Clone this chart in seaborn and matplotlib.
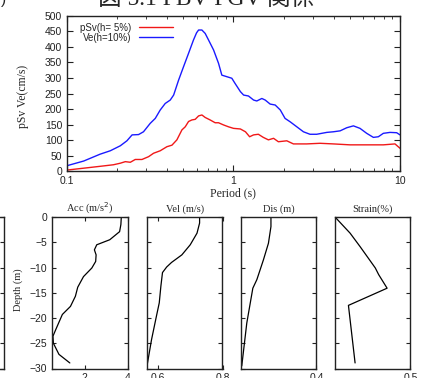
import numpy as np
import pandas as pd
import matplotlib
matplotlib.use("Agg")
import matplotlib.pyplot as plt
import seaborn as sns

# ---- data: response spectra ----
period_ve = [0.1, 0.126, 0.158, 0.182, 0.209, 0.229, 0.246, 0.269, 0.288, 0.316, 0.339,
             0.363, 0.389, 0.417, 0.437, 0.468, 0.501, 0.537, 0.575, 0.600, 0.617, 0.646,
             0.676, 0.708, 0.759, 0.813, 0.851, 0.912, 0.977, 1.02, 1.10, 1.15, 1.23,
             1.32, 1.38, 1.48, 1.55, 1.66, 1.78, 1.91, 2.04, 2.19, 2.40, 2.63, 2.88,
             3.16, 3.63, 3.98, 4.37, 4.79, 5.25, 5.75, 6.31, 6.92, 7.41, 7.94, 8.71,
             9.55, 10.0]
ve_10 = [18, 33, 55, 66, 82, 98, 117, 118, 127, 154, 170, 197, 218, 229, 245, 293, 336,
         379, 422, 445, 454, 454, 443, 422, 390, 347, 309, 304, 299, 283, 256, 245, 242, 229,
         226, 234, 229, 216, 213, 197, 170, 159, 143, 127, 119, 119, 125, 127, 130, 140,
         146, 138, 122, 109, 111, 122, 125, 124, 117]

period_psv = [0.1, 0.126, 0.158, 0.19, 0.209, 0.224, 0.240, 0.257, 0.282, 0.309, 0.331,
              0.363, 0.398, 0.427, 0.457, 0.490, 0.513, 0.537, 0.562, 0.589, 0.617,
              0.646, 0.676, 0.724, 0.776, 0.813, 0.871, 0.933, 1.0, 1.10, 1.18, 1.25,
              1.32, 1.41, 1.51, 1.62, 1.74, 1.86, 2.09, 2.29, 2.75, 3.31, 3.98, 5.01,
              6.31, 7.94, 9.33, 10.0]
psv_5 = [4, 10, 16, 21, 26, 31, 29, 38, 38, 47, 58, 66, 79, 84, 101, 133, 143, 160, 165,
         167, 178, 181, 173, 165, 156, 156, 149, 143, 138, 136, 127, 111, 117, 119, 109,
         101, 106, 95, 98, 88, 88, 90, 88, 85, 85, 85, 88, 74]

legend_labels = ["pSv(h= 5%)", "Ve(h=10%)"]
y_ticks_top = [0, 50, 100, 150, 200, 250, 300, 350, 400, 450, 500]

# ---- data: depth profiles ----
acc_depth = [0, -1.5, -2.9, -4.5, -5.5, -6.5, -7.5, -8.8, -10.1, -11.8, -13.9, -15.7, -17.7,
             -19.3, -22.3, -23.6, -25.0, -27.2, -28.9]
acc = [3.71, 3.69, 3.63, 3.17, 2.56, 2.45, 2.53, 2.51, 2.33, 1.94, 1.67, 1.56, 1.33, 0.95,
       0.64, 0.51, 0.53, 0.79, 1.30]

vel_depth = [0, -1.2, -3.2, -5.5, -7.5, -9.0, -9.9, -11.0, -13.7, -17.0, -19.7, -24.3, -29.5]
vel = [0.729, 0.729, 0.721, 0.700, 0.674, 0.642, 0.627, 0.614, 0.609, 0.604, 0.595,
       0.580, 0.566]

dis_depth = [0, -1.9, -5.2, -8.5, -12.4, -14.1, -16.4, -21.0, -29.5]
dis = [0.219, 0.219, 0.209, 0.189, 0.163, 0.147, 0.139, 0.123, 0.103]

strain_depth = [0, -3.2, -5.9, -8.5, -10.1, -11.4, -14.1, -17.5, -28.9]
strain = [0.0, 0.10, 0.167, 0.229, 0.267, 0.289, 0.345, 0.089, 0.133]

panel_titles = ["Acc (m/s$^2$)", "Vel (m/s)", "Dis (m)", "Strain(%)"]
depth_ticks = [0, -5, -10, -15, -20, -25, -30]

# ---- style ----
sns.set_style("ticks")
plt.rcParams.update({
    "xtick.direction": "in", "ytick.direction": "in",
    "axes.edgecolor": "#222222", "axes.linewidth": 1.0,
    "xtick.color": "#222222", "ytick.color": "#222222",
    "lines.solid_joinstyle": "round",
})
plt.rcParams["font.family"] = ["Liberation Sans", "DejaVu Sans"]
SERIF = ["Liberation Serif", "DejaVu Serif"]

W, H = 427, 378
fig = plt.figure(figsize=(W / 100, H / 100), dpi=100)


def box(l, t, r, b):
    return [l / W, 1 - b / H, (r - l) / W, (b - t) / H]


# ---- top chart ----
ax = fig.add_axes(box(67, 15.7, 400, 171.3))
sns.lineplot(x=period_psv, y=psv_5, ax=ax, color="#f01818", lw=1.0,
             label=legend_labels[0], sort=False, estimator=None)
sns.lineplot(x=period_ve, y=ve_10, ax=ax, color="#1a1aff", lw=1.0,
             label=legend_labels[1], sort=False, estimator=None)
ax.set_xscale("log")
ax.set_xlim(0.1, 10)
ax.set_ylim(0, 500)
ax.set_yticks(y_ticks_top)
ax.set_xticks([0.1, 1, 10])
ax.set_xticklabels(["0.1", "1", "10"])
ax.tick_params(which="both", top=True, right=True, labelsize=7.5)
ax.tick_params(axis="x", pad=3.5)
ax.tick_params(axis="y", pad=3.5)
ax.tick_params(which="major", length=4)
ax.tick_params(which="minor", length=2.5)
ax.set_xlabel("")
ax.set_ylabel("")
ax.legend(loc="upper left", bbox_to_anchor=(0.02, 1.0), frameon=False,
          markerfirst=False, fontsize=7, handlelength=3.4, labelspacing=0.0,
          handletextpad=0.8, borderaxespad=0.3)

fig.text(233 / W, 1 - 193 / H, "Period (s)", ha="center", va="center",
         fontsize=8.5, family=SERIF)
fig.text(23 / W, 1 - 96 / H, "pSv Ve(cm/s)", ha="center", va="center",
         rotation=90, fontsize=8.5, family=SERIF)

# title (cut off at top) and stray parenthesis
fig.text(206 / W, 1 - 5 / H, "図 5.1 PBV-PGV 関係", ha="center", va="baseline",
         fontsize=17, family=["Liberation Serif", "Noto Sans CJK JP"])
fig.text(0.5 / W, 1 - 4 / H, ")", ha="left", va="baseline", fontsize=11,
         family=["Liberation Sans"])

# ---- bottom profiles ----
lefts = [52, 147, 241, 335]
xlims = [(0.465, 4), (0.566, 0.8), (0.1, 0.4), (0.0, 0.5)]
xticks = [[2, 4], [0.6, 0.8], [0.4], [0.5]]
xticklabels = [["2", "4"], ["0.6", "0.8"], ["0.4"], ["0.5"]]
profiles = [(acc, acc_depth), (vel, vel_depth), (dis, dis_depth), (strain, strain_depth)]

# partially visible panel on the far left
axl = fig.add_axes(box(-70, 217, 4, 368.5))
axl.set_ylim(-30, 0)
axl.set_yticks(depth_ticks)
axl.set_xticks([])
axl.tick_params(axis="y", left=False, right=True, labelleft=False, length=3)

for i in range(4):
    a = fig.add_axes(box(lefts[i], 217, lefts[i] + 75.5, 368.5))
    xs, ds = profiles[i]
    sns.lineplot(x=xs, y=ds, ax=a, color="black", lw=0.9, sort=False,
                 estimator=None, orient="y")
    a.set_xlim(*xlims[i])
    a.set_ylim(-30, 0)
    a.set_yticks(depth_ticks)
    a.set_xticks(xticks[i])
    a.set_xticklabels(xticklabels[i])
    a.tick_params(top=True, right=True, length=3, labelsize=7.5, pad=3.5)
    a.tick_params(axis="y", labelleft=(i == 0))
    a.set_xlabel("")
    a.set_ylabel("")
    a.set_title(panel_titles[i], fontsize=7.5, family=SERIF, pad=4)

fig.text(18 / W, 1 - 290 / H, "Depth (m)", ha="center", va="center", rotation=90,
         fontsize=7.5, family=SERIF)

fig.savefig("out.png", dpi=100)
